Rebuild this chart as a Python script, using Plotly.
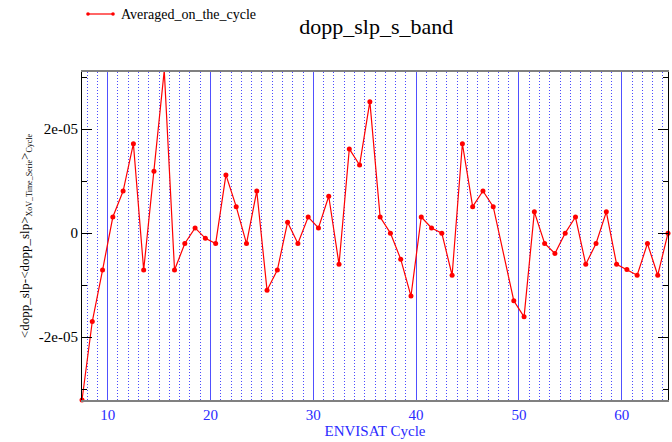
import numpy as np
import plotly.graph_objects as go

# ENVISAT cycle positions (mid-cycle) and cycle-averaged Doppler slope anomaly
cycles = list(np.arange(7.5, 65.0, 1.0))
dopp_slp_avg_e5 = [
    -3.21, -1.70, -0.71, 0.31, 0.81, 1.72, -0.71, 1.19, 3.13, -0.71,
    -0.20, 0.10, -0.10, -0.20, 1.12, 0.51, -0.20, 0.81, -1.10, -0.71,
    0.21, -0.20, 0.31, 0.10, 0.71, -0.60, 1.62, 1.31, 2.53, 0.31,
    0.00, -0.50, -1.21, 0.31, 0.10, 0.00, -0.81, 1.72, 0.51, 0.81,
    0.51, None, -1.30, -1.61, 0.41, -0.20, -0.39, 0.00, 0.31, -0.60,
    -0.20, 0.41, -0.60, -0.70, -0.81, -0.20, -0.81, 0.00,
]
dopp_slp_avg = [None if v is None else v * 1e-5 for v in dopp_slp_avg_e5]
series_name = "Averaged_on_the_cycle"

y_tickvals = [-2e-5, 0, 2e-5]
y_ticktext = ["-2e-05", "0", "2e-05"]
y_minor_vals = [-3e-5, -1e-5, 1e-5, 3e-5]
x_tickvals = [10, 20, 30, 40, 50, 60]
x_minor_vals = [c for c in range(8, 65) if c % 10 != 0]

FONT = "Liberation Serif"
BLUE = "#2a2aff"
RED = "#ff0000"

W, H = 672, 442
ML, MR, MT, MB = 82, 4, 72, 42
PW, PH = W - ML - MR, H - MT - MB


def px_x(px):
    return (px - ML) / PW


def px_y(py):
    return 1 + (MT - py) / PH


fig = go.Figure()
fig.add_trace(go.Scatter(
    x=cycles, y=dopp_slp_avg,
    mode="lines+markers",
    name=series_name,
    connectgaps=True,
    line=dict(color=RED, width=1.2),
    marker=dict(color=RED, size=5, symbol="circle"),
    cliponaxis=False,
    showlegend=False,
))

# legend key: short line with a marker at each end, then the series name
ly = px_y(14)
fig.add_shape(type="line", xref="paper", yref="paper",
              x0=px_x(88), x1=px_x(113), y0=ly, y1=ly,
              line=dict(color=RED, width=1.2))
for kx in (88, 113):
    fig.add_shape(type="circle", xref="paper", yref="paper",
                  x0=px_x(kx - 1.8), x1=px_x(kx + 1.8),
                  y0=ly - 1.8 / PH, y1=ly + 1.8 / PH,
                  fillcolor=RED, line=dict(color=RED, width=0))
fig.add_annotation(text=series_name, xref="paper", yref="paper",
                   x=px_x(119), y=ly, xanchor="left", yanchor="middle",
                   showarrow=False,
                   font=dict(family=FONT, size=14, color="black"))

y_title = ("&lt;dopp_slp-&lt;dopp_slp&gt;"
           "<sub><span style='font-size:8px'>XoV_Time_Serie</span></sub>"
           "&gt;<sub><span style='font-size:8px'>Cycle</span></sub>")

fig.update_layout(
    width=W, height=H,
    margin=dict(l=ML, r=MR, t=MT, b=MB),
    paper_bgcolor="white", plot_bgcolor="white",
    font=dict(family=FONT, color="black"),
    title=dict(text="dopp_slp_s_band", x=0.56, xanchor="center",
               y=1 - 26 / H, yanchor="middle",
               font=dict(family=FONT, size=22, color="black")),
    showlegend=False,
    xaxis=dict(
        range=[7.5, 64.5],
        tickmode="array", tickvals=x_tickvals,
        ticks="", showticklabels=True,
        tickfont=dict(family=FONT, size=15, color=BLUE),
        title=dict(text="ENVISAT Cycle",
                   font=dict(family=FONT, size=15, color=BLUE),
                   standoff=0),
        showgrid=True, gridcolor="#5050ff", gridwidth=1.2,
        minor=dict(tickmode="array", tickvals=x_minor_vals, ticks="",
                   showgrid=True, gridcolor="#4a4aff",
                   griddash="1px,2px", gridwidth=1),
        showline=True, linecolor="#808080", linewidth=2, mirror=True,
        zeroline=False,
    ),
    yaxis=dict(
        range=[-3.21e-5, 3.10e-5],
        tickmode="array", tickvals=y_tickvals, ticktext=y_ticktext,
        ticks="inside", ticklen=10, tickcolor="black", tickwidth=1,
        tickfont=dict(family=FONT, size=15, color="black"),
        minor=dict(tickmode="array", tickvals=y_minor_vals,
                   ticks="inside", ticklen=5, tickcolor="black",
                   showgrid=False),
        title=dict(text=y_title,
                   font=dict(family=FONT, size=13, color="black"),
                   standoff=6),
        showgrid=False, zeroline=False,
        showline=True, linecolor="black", linewidth=1, mirror="ticks",
    ),
)

fig.write_html("out.html")
